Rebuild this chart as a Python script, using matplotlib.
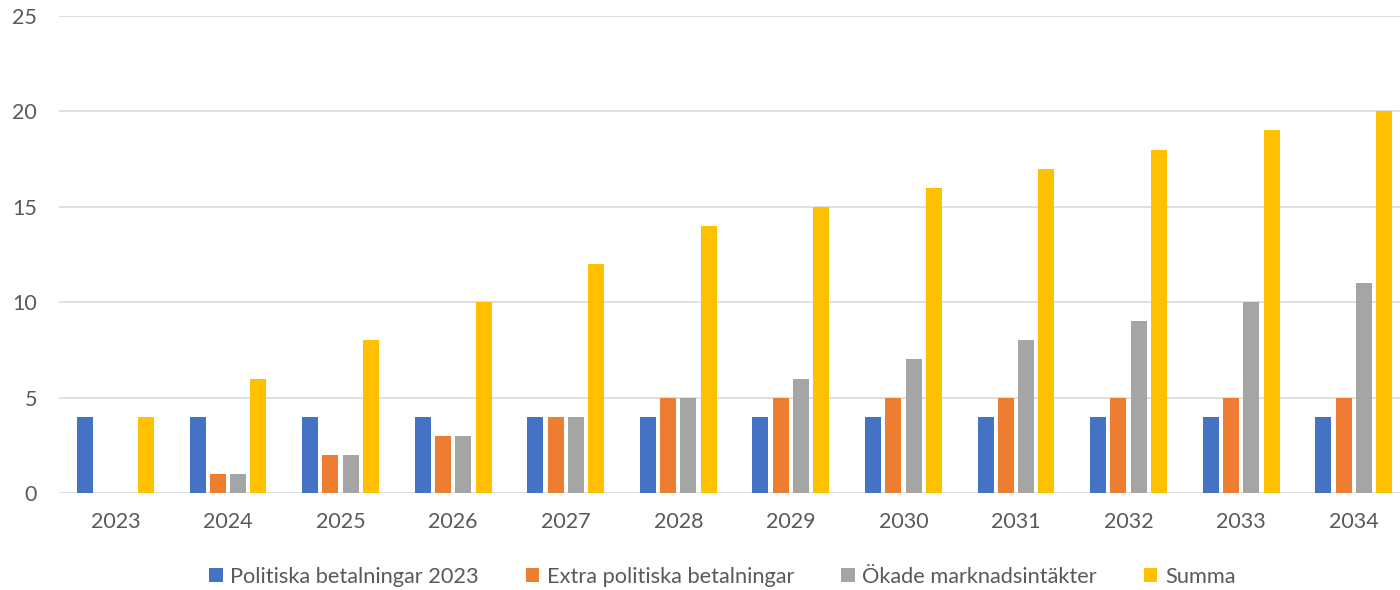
import numpy as np
import matplotlib
matplotlib.use("Agg")
import matplotlib.pyplot as plt

# Chart data
years = ["2023", "2024", "2025", "2026", "2027", "2028",
         "2029", "2030", "2031", "2032", "2033", "2034"]
politiska_2023 = [4, 4, 4, 4, 4, 4, 4, 4, 4, 4, 4, 4]
extra_politiska = [0, 1, 2, 3, 4, 5, 5, 5, 5, 5, 5, 5]
okade_marknad = [0, 1, 2, 3, 4, 5, 6, 7, 8, 9, 10, 11]
summa = [4, 6, 8, 10, 12, 14, 15, 16, 17, 18, 19, 20]

series = [
    ("Politiska betalningar 2023", politiska_2023, "#4472C4"),
    ("Extra politiska betalningar", extra_politiska, "#ED7D31"),
    ("Ökade marknadsintäkter", okade_marknad, "#A5A5A5"),
    ("Summa", summa, "#FFC000"),
]

plt.rcParams['font.family'] = ['Lato', 'DejaVu Sans']
text_col = "#595959"

fig = plt.figure(figsize=(14, 5.9), dpi=100)
ax = fig.add_axes([59.2 / 1400, 97 / 590, 1 - 59.2 / 1400, 477 / 590])

x = np.arange(len(years))
step = 0.180
width = 0.142
for i, (name, vals, col) in enumerate(series):
    ax.bar(x + (i - 1.5) * step, vals, width, color=col, label=name, zorder=3)

ax.set_ylim(0, 25)
ax.set_yticks([0, 5, 10, 15, 20, 25])
ax.set_xlim(-0.5, 11.5 - 10 / 112.6)
ax.set_xticks(x)
ax.set_xticklabels(years)
ax.grid(axis="y", color="#D9D9D9", linewidth=1.2, zorder=0)
ax.set_axisbelow(True)
for s in ax.spines.values():
    s.set_visible(False)
ax.tick_params(axis="both", length=0, labelsize=15.5, labelcolor=text_col)
ax.tick_params(axis="y", pad=16)
ax.tick_params(axis="x", pad=14)

fig.legend(loc="center", bbox_to_anchor=(0.516, 0.022), ncol=4, frameon=False,
           fontsize=15.7, labelcolor=text_col, handlelength=0.62, handleheight=0.62,
           handletextpad=0.35, columnspacing=2.15)

fig.savefig("out.png", dpi=100)
